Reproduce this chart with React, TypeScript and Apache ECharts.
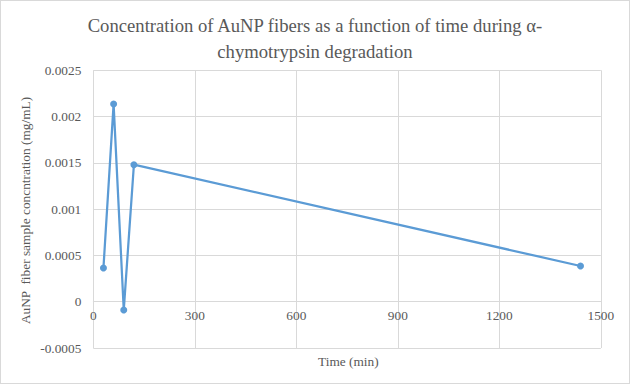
import React, { useEffect, useRef } from "react";
import * as echarts from "echarts";

const times = [30, 60, 90, 120, 1440];
const concentrations = [0.000365, 0.002135, -0.00009, 0.00148, 0.000386];
const titleLines = [
  "Concentration of AuNP fibers as a function of time during α-",
  "chymotrypsin degradation",
];
const xAxisName = "Time (min)";
const yAxisName = "AuNP  fiber sample concntration (mg/mL)";

const FONT = "'Liberation Serif', 'Times New Roman', serif";
const GRAY = "#595959";
const GRID = "#d9d9d9";
const BLUE = "#5B9BD5";

export default function App() {
  const ref = useRef<HTMLDivElement>(null);
  useEffect(() => {
    if (!ref.current) return;
    const chart = echarts.init(ref.current, null, { renderer: "svg" });
    chart.setOption({
      animation: false,
      backgroundColor: "#ffffff",
      title: {
        text: titleLines.join("\n"),
        left: "center",
        top: 6,
        textStyle: {
          fontFamily: FONT,
          fontSize: 18.67,
          fontWeight: "normal",
          color: GRAY,
          lineHeight: 26,
        },
      },
      grid: { left: 92.3, right: 28.2, top: 69.3, bottom: 35, containLabel: false },
      xAxis: {
        type: "value",
        min: 0,
        max: 1500,
        interval: 300,
        offset: -46.7,
        axisLine: { show: true, onZero: false, lineStyle: { color: GRID, width: 1 } },
        axisTick: { show: false },
        axisLabel: {
          fontFamily: FONT,
          fontSize: 13.33,
          color: GRAY,
          margin: 8,
          formatter: (v: number) => String(v),
        },
        splitLine: { show: true, lineStyle: { color: GRID, width: 1 } },
      },
      yAxis: {
        type: "value",
        min: -0.0005,
        max: 0.0025,
        interval: 0.0005,
        axisLine: { show: false },
        axisTick: { show: false },
        axisLabel: {
          fontFamily: FONT,
          fontSize: 13.33,
          color: GRAY,
          margin: 12,
          formatter: (v: number) => String(parseFloat(v.toFixed(4))),
        },
        splitLine: { show: true, lineStyle: { color: GRID, width: 1 } },
      },
      graphic: [
        {
          type: "text",
          left: 347 - 30,
          top: 354,
          style: {
            text: xAxisName,
            fontFamily: FONT,
            fontSize: 13.33,
            fill: GRAY,
          },
        },
        {
          type: "text",
          x: 24,
          y: 209.5,
          rotation: Math.PI / 2,
          style: {
            text: yAxisName,
            fontFamily: FONT,
            fontSize: 13.33,
            fill: GRAY,
            align: "center",
            verticalAlign: "middle",
          },
        },
      ],
      series: [
        {
          type: "line",
          data: times.map((t, i) => [t, concentrations[i]]),
          symbol: "circle",
          symbolSize: 7,
          lineStyle: { color: BLUE, width: 2.25 },
          itemStyle: { color: BLUE },
        },
      ],
    });
    return () => chart.dispose();
  }, []);
  return (
    <div
      ref={ref}
      style={{
        position: "absolute",
        left: 0,
        top: 0,
        width: 630,
        height: 384,
        boxSizing: "border-box",
        border: "1px solid #d9d9d9",
      }}
    />
  );
}
